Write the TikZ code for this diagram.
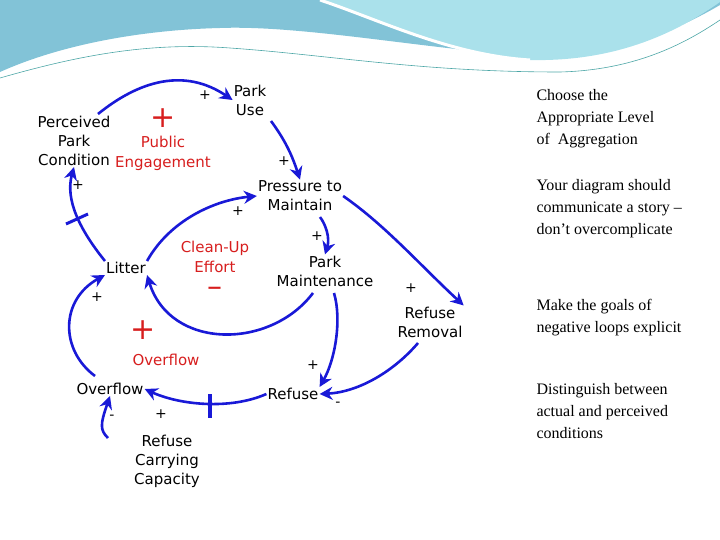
\documentclass[tikz,border=0pt]{standalone}
\usepackage{fontspec}
\setmainfont{Liberation Serif}
\newfontfamily\dv{DejaVu Sans}
\usetikzlibrary{arrows.meta}
\definecolor{loopblue}{RGB}{25,25,215}
\definecolor{loopred}{RGB}{215,30,30}
\definecolor{wave}{RGB}{130,195,215}
\definecolor{wavelight}{RGB}{170,225,235}
\tikzset{
  var/.style={font=\dv\fontsize{15}{19}\selectfont, align=center, inner sep=1pt},
  loopname/.style={font=\dv\fontsize{15}{20}\selectfont, text=loopred, align=center},
  link/.style={draw=loopblue, line width=2.6pt, -{Stealth[length=13pt,width=13pt]}},
  sgn/.style={font=\dv\fontsize{14}{14}\selectfont},
  note/.style={font=\fontsize{16}{22}\selectfont, align=flush left, anchor=north west, text width=150pt}
}
\begin{document}
\begin{tikzpicture}[x=1pt,y=-1pt]
\useasboundingbox (0,0) rectangle (720,540);
% background waves
\fill[wave] (0,0) -- (720,0) -- (720,5) .. controls (660,40) and (600,58) .. (520,55)
  .. controls (420,48) and (300,25) .. (220,28) .. controls (140,30) and (60,45) .. (0,72) -- cycle;
\fill[wavelight] (320,0) .. controls (380,20) and (450,55) .. (530,60)
  .. controls (620,62) and (680,30) .. (720,2) -- (720,0) -- cycle;
\draw[teal!70, line width=0.6pt] (0,78) .. controls (80,55) and (150,42) .. (230,48)
  .. controls (330,55) and (420,72) .. (560,72) .. controls (640,70) and (690,40) .. (720,20);
\draw[white, line width=3pt] (320,0) .. controls (380,20) and (450,55) .. (530,60);

% variables
\node[var] (use) at (250,100) {Park\\Use};
\node[var] (perc) at (74,141) {Perceived\\Park\\Condition};
\node[var] (press) at (300,196) {Pressure to\\Maintain};
\node[var] (litter) at (126,268) {Litter};
\node[var] (maint) at (325,271) {Park\\Maintenance};
\node[var] (removal) at (430,322) {Refuse\\Removal};
\node[var] (over) at (110,389) {Overflow};
\node[var] (refuse) at (293,394) {Refuse};
\node[var] (cap) at (167,461) {Refuse\\Carrying\\Capacity};

% loop names
\node[loopname] (pubpl) at (163,118) {\fontsize{30}{30}\selectfont +};
\node[loopname] (pub) at (163,153) {Public\\Engagement};
\node[loopname] (clean) at (215,257) {Clean-Up\\Effort};
\node[loopname] (cleanmi) at (215,292) {\fontsize{30}{30}\selectfont \textendash};
\node[loopname] (ovpl) at (143,330) {\fontsize{30}{30}\selectfont +};
\node[loopname] (ovname) at (166,360) {Overflow};

% links
\coordinate (p1) at (98,114);
\coordinate (u1) at (271,121);
\coordinate (m1) at (320,217);
\coordinate (l1) at (313,293);
\coordinate (r1) at (334,293);
\coordinate (r2) at (418,343);
\coordinate (o2) at (95,376);
\coordinate (c1) at (108,438);
\draw[link] (p1) .. controls (140,80) and (185,68) .. (use.west);
\draw[link] (u1) .. controls (285,140) and (292,155) .. (press.north);
\draw[link] (litter.north east) .. controls (170,220) and (215,200) .. (press.west);
\draw[link] (litter.north west) .. controls (80,230) and (65,200) .. (perc.south);
\draw[loopblue, line width=3pt] (66,224) -- (88,214);
\draw[link] (m1) .. controls (326,225) and (330,238) .. (maint.north);
\draw[link] (press.east) .. controls (385,225) and (420,265) .. (removal.north east);
\draw[link] (l1) .. controls (270,350) and (170,350) .. (litter.south east);
\draw[link] (r1) .. controls (342,320) and (335,360) .. (refuse.north east);
\draw[link] (r2) .. controls (395,370) and (360,392) .. (refuse.east);
\draw[link] (refuse.west) .. controls (230,410) and (180,405) .. (over.east);
\draw[loopblue, line width=4.5pt] (210,394) -- (210,418);
\draw[link] (o2) .. controls (60,350) and (60,300) .. (litter.south west);
\draw[link] (c1) .. controls (100,430) and (100,425) .. (over.south);

% polarities
\node[sgn] (s1) at (205,95) {+};
\node[sgn] (s2) at (284,161) {+};
\node[sgn] (s3) at (238,211) {+};
\node[sgn] (s4) at (78,185) {+};
\node[sgn] (s5) at (317,236) {+};
\node[sgn] (s6) at (411,288) {+};
\node[sgn] (s7) at (313,365) {+};
\node[sgn] (s8) at (338,404) {-};
\node[sgn] (s9) at (161,414) {+};
\node[sgn] (s10) at (97,297) {+};
\node[sgn] (s11) at (112,417) {-};

% notes
\node[note] (n1) at (533,86) {Choose the Appropriate Level of~ Aggregation};
\node[note] (n2) at (533,176) {Your diagram should communicate a story -- don't overcomplicate};
\node[note] (n3) at (533,296) {Make the goals of negative loops explicit};
\node[note] (n4) at (533,380) {Distinguish between actual and perceived conditions};
\end{tikzpicture}
\end{document}
